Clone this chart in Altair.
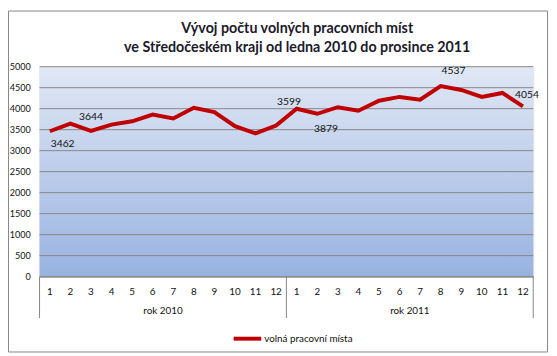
import altair as alt
import pandas as pd

# ---- data ----
years = ["2010", "2011"]
year_labels = ["rok 2010", "rok 2011"]
months = ["1", "2", "3", "4", "5", "6", "7", "8", "9", "10", "11", "12"]
values_2010 = [3462, 3644, 3470, 3620, 3700, 3860, 3765, 4020, 3920, 3585, 3410, 3599]
values_2011 = [3998, 3879, 4035, 3950, 4190, 4280, 4215, 4537, 4445, 4280, 4375, 4054]
y_ticks = [0, 500, 1000, 1500, 2000, 2500, 3000, 3500, 4000, 4500, 5000]
series_name = "volná pracovní místa"
title_lines = ["Vývoj počtu volných pracovních míst",
               "ve Středočeském kraji od ledna 2010 do prosince 2011"]
# which points carry a data label (year, month)
labelled_points = [("2010", "1"), ("2010", "2"), ("2010", "12"),
                   ("2011", "2"), ("2011", "8"), ("2011", "12")]

rows = []
for yr, vals in zip(years, [values_2010, values_2011]):
    for m, v in zip(months, vals):
        rows.append({"key": f"{yr}|{m}", "year": yr, "month": m,
                     "value": v, "series": series_name})
df = pd.DataFrame(rows)
keys = list(df["key"])

W, H = 501, 213
FONT = "Lato"
GRID = "#868686"
RED = "#c00000"

xscale = alt.Scale(domain=keys, paddingInner=0, paddingOuter=0)
yscale = alt.Scale(domain=[0, 5000], nice=False)

x_axis = alt.Axis(title=None, labelExpr="split(datum.value, '|')[1]",
                  ticks=False, domain=True, domainColor=GRID, labelAngle=0,
                  labelPadding=10, labelFont=FONT, labelFontSize=10,
                  labelColor="#111111")

gradient = alt.Gradient(
    gradient="linear",
    stops=[alt.GradientStop(color="#e1e8f5", offset=0),
           alt.GradientStop(color="#98b2e0", offset=1)],
    x1=0, x2=0, y1=0, y2=1,
)

one = pd.DataFrame({"k": [0]})

bg = alt.Chart(one).mark_rect(fill=gradient).encode(
    x=alt.value(0), x2=alt.value(W), y=alt.value(0), y2=alt.value(H)
)

tick_df = pd.DataFrame({"v": y_ticks})
grid = alt.Chart(tick_df).mark_rule(color=GRID, strokeWidth=1).encode(
    y=alt.Y("v:Q", scale=yscale, axis=None),
    x=alt.value(0), x2=alt.value(W),
)
y_labels = alt.Chart(tick_df).mark_text(
    font=FONT, fontSize=9.2, color="#111111", align="right",
    baseline="middle").encode(
    y=alt.Y("v:Q", scale=yscale, axis=None),
    x=alt.value(-9),
    text=alt.Text("v:Q", format="d"),
)

line = alt.Chart(df).mark_line(strokeWidth=4).encode(
    x=alt.X("key:N", scale=xscale, axis=x_axis),
    y=alt.Y("value:Q", scale=yscale, axis=None),
    color=alt.Color("series:N",
                    scale=alt.Scale(domain=[series_name], range=[RED]),
                    legend=alt.Legend(orient="none", legendX=195, legendY=260,
                                      title=None, symbolType="stroke",
                                      symbolSize=784, symbolStrokeWidth=4,
                                      labelFont=FONT, labelFontSize=10,
                                      labelColor="#111111", labelOffset=1,
                                      padding=0)),
)

# label offsets (style only)
offsets = {("2010", "1"): (13, 13), ("2010", "2"): (21, -7),
           ("2010", "12"): (13, -24), ("2011", "2"): (9, 16),
           ("2011", "8"): (13, -15), ("2011", "12"): (4, -12)}

label_layers = []
for (yr, m) in labelled_points:
    dx, dy = offsets[(yr, m)]
    sub = df[(df["year"] == yr) & (df["month"] == m)]
    label_layers.append(
        alt.Chart(sub).mark_text(font=FONT, fontSize=10.5, color="#111111",
                                 dx=dx, dy=dy, baseline="middle").encode(
            x=alt.X("key:N", scale=xscale),
            y=alt.Y("value:Q", scale=yscale, axis=None),
            text=alt.Text("value:Q", format="d"),
        )
    )

yr_df = pd.DataFrame({"key": [f"{y}|6" for y in years], "label": year_labels})
year_text = alt.Chart(yr_df).mark_text(font=FONT, fontSize=10, color="#111111",
                                       baseline="middle").encode(
    x=alt.X("key:N", scale=xscale, bandPosition=1),
    y=alt.value(H + 35),
    text="label:N",
)

sep_start = alt.Chart(pd.DataFrame({"key": [f"{y}|1" for y in years]})).mark_rule(
    color=GRID, strokeWidth=1).encode(
    x=alt.X("key:N", scale=xscale, bandPosition=0),
    y=alt.value(H), y2=alt.value(H + 42),
)
sep_end = alt.Chart(pd.DataFrame({"key": [keys[-1]]})).mark_rule(
    color=GRID, strokeWidth=1).encode(
    x=alt.X("key:N", scale=xscale, bandPosition=1),
    y=alt.value(H), y2=alt.value(H + 42),
)

title_df = pd.DataFrame({"t": ["\n".join(title_lines)]})
title = alt.Chart(title_df).mark_text(
    font=FONT, fontSize=14.5, fontWeight="bold", color="#1a1a2a",
    align="center", baseline="top", lineBreak="\n", lineHeight=19).encode(
    x=alt.value(W / 2 + 11), y=alt.value(-45), text="t:N"
)

frame = alt.Chart(one).mark_rect(fillOpacity=0, stroke=GRID, strokeWidth=1).encode(
    x=alt.value(-31.5), x2=alt.value(W + 14.5),
    y=alt.value(-56.5), y2=alt.value(H + 76.5),
)

chart = alt.layer(bg, grid, y_labels, line, *label_layers, year_text,
                  sep_start, sep_end, title, frame).properties(
    width=W, height=H,
    autosize=alt.AutoSizeParams(type="none"),
    padding={"left": 32, "top": 57, "right": 16, "bottom": 78},
).configure_view(stroke=None).configure(background="white")

chart.save("out.html", embed_options={"renderer": "svg", "actions": False})
